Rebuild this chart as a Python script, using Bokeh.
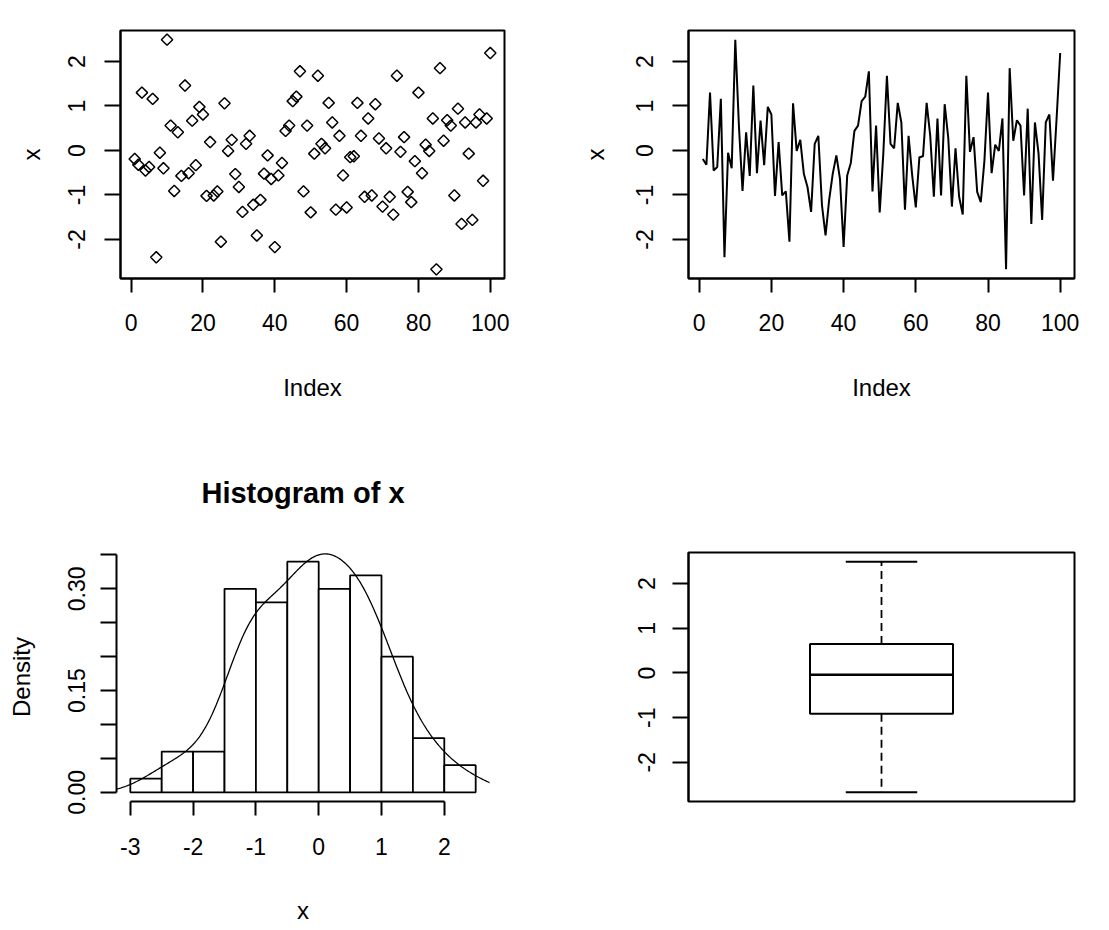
import numpy as np
from bokeh.plotting import figure
from bokeh.models import Range1d, FixedTicker, CustomJSTickFormatter, Title
from bokeh.layouts import column, row
from bokeh.embed import file_html
from bokeh.resources import INLINE

# ---------------- data ----------------
x_values = [
    -0.19, -0.32, 1.30, -0.45, -0.37, 1.16, -2.40, -0.05, -0.40, 2.49,
    0.56, -0.91, 0.41, -0.57, 1.46, -0.51, 0.67, -0.33, 0.98, 0.81,
    -1.02, 0.19, -1.01, -0.92, -2.05, 1.06, -0.01, 0.24, -0.53, -0.82,
    -1.38, 0.15, 0.33, -1.22, -1.91, -1.11, -0.52, -0.11, -0.64, -2.17,
    -0.56, -0.28, 0.44, 0.56, 1.11, 1.21, 1.78, -0.92, 0.56, -1.39,
    -0.07, 1.68, 0.15, 0.05, 1.07, 0.63, -1.33, 0.33, -0.56, -1.28,
    -0.15, -0.13, 1.07, 0.33, -1.04, 0.72, -1.01, 1.04, 0.27, -1.26,
    0.05, -1.04, -1.44, 1.68, -0.03, 0.30, -0.93, -1.16, -0.24, 1.30,
    -0.51, 0.13, -0.01, 0.72, -2.67, 1.85, 0.22, 0.68, 0.56, -1.01,
    0.94, -1.65, 0.63, -0.07, -1.56, 0.63, 0.81, -0.68, 0.72, 2.19,
]
index_values = list(range(1, len(x_values) + 1))
index_ticks = [0, 20, 40, 60, 80, 100]
value_ticks = [-2, -1, 0, 1, 2]
hist_breaks = [-3.0, -2.5, -2.0, -1.5, -1.0, -0.5, 0.0, 0.5, 1.0, 1.5, 2.0, 2.5]
hist_x_ticks = [-3, -2, -1, 0, 1, 2]
density_ticks = [0, 0.05, 0.1, 0.15, 0.2, 0.25, 0.3, 0.35]
density_labels = [0, 0.15, 0.3]

FONT = "Liberation Sans"
x = np.array(x_values, dtype=float)
n = len(x)

PLAIN = CustomJSTickFormatter(code="return tick.toString();")


def ext(lo, hi):
    d = (hi - lo) * 0.04
    return lo - d, hi + d


ylo, yhi = ext(x.min(), x.max())
ixlo, ixhi = ext(1, n)


def style_axis(ax, tick_len=15):
    ax.major_tick_out = tick_len
    ax.major_tick_in = 0
    ax.minor_tick_line_color = None
    ax.major_tick_line_width = 2
    ax.major_tick_line_color = "black"
    ax.axis_line_width = 2
    ax.axis_line_color = "black"
    ax.major_label_text_font = FONT
    ax.major_label_text_font_size = "23px"
    ax.major_label_text_color = "black"
    ax.axis_label_text_font = FONT
    ax.axis_label_text_font_size = "24px"
    ax.axis_label_text_font_style = "normal"
    ax.axis_label_text_color = "black"


def base_fig(width, height, left, right, top, bottom, xr, yr, outline=True):
    p = figure(width=width, height=height, x_range=Range1d(*xr), y_range=Range1d(*yr),
               output_backend="svg", toolbar_location=None,
               min_border_left=left, min_border_right=right,
               min_border_top=top, min_border_bottom=bottom)
    p.xgrid.visible = False
    p.ygrid.visible = False
    p.background_fill_color = "white"
    p.border_fill_color = "white"
    if outline:
        p.outline_line_color = "black"
        p.outline_line_width = 2
    else:
        p.outline_line_color = None
    return p


def index_axes(p, ylabel_standoff):
    style_axis(p.xaxis[0], 14)
    style_axis(p.yaxis[0], 16)
    p.xaxis.ticker = FixedTicker(ticks=index_ticks)
    p.yaxis.ticker = FixedTicker(ticks=value_ticks)
    p.xaxis.formatter = PLAIN
    p.yaxis.formatter = PLAIN
    p.yaxis.major_label_orientation = "vertical"
    p.xaxis.axis_label = "Index"
    p.yaxis.axis_label = "x"
    p.xaxis.major_label_standoff = 21
    p.xaxis.axis_label_standoff = 40
    p.yaxis.major_label_standoff = 19
    p.yaxis.axis_label_standoff = ylabel_standoff


# ---------------- panel 1: scatter ----------------
p1 = base_fig(562, 460, 120, 58, 30, 182, (ixlo, ixhi), (ylo, yhi))
p1.scatter(index_values, x_values, marker="square", angle=np.pi / 4, size=8,
           fill_color=None, line_color="black", line_width=1.5)
index_axes(p1, 21)

# ---------------- panel 2: line ----------------
p2 = base_fig(539, 460, 126, 27, 29, 182, (ixlo, ixhi), (ylo, yhi))
p2.line(index_values, x_values, line_color="black", line_width=2)
index_axes(p2, 25)

# ---------------- panel 3: histogram + density ----------------
breaks = np.array(hist_breaks)
counts = np.array([np.sum((x > breaks[i]) & (x <= breaks[i + 1])) if i > 0 else
                   np.sum((x >= breaks[i]) & (x <= breaks[i + 1]))
                   for i in range(len(breaks) - 1)])
dens_bar = counts / (n * np.diff(breaks))
hxlo, hxhi = ext(breaks[0], breaks[-1])
hylo, hyhi = ext(0, dens_bar.max())

p3 = base_fig(562, 468, 116, 73, 91, 126, (hxlo, hxhi), (hylo, hyhi), outline=False)
p3.quad(left=breaks[:-1], right=breaks[1:], bottom=0, top=dens_bar,
        fill_color="white", line_color="black", line_width=1.8)

sd = np.std(x, ddof=1)
q75, q25 = np.percentile(x, [75, 25])
bw = 0.9 * min(sd, (q75 - q25) / 1.34) * n ** (-0.2)
grid = np.linspace(x.min() - 3 * bw, x.max() + 3 * bw, 512)
kde = np.exp(-0.5 * ((grid[:, None] - x[None, :]) / bw) ** 2).sum(axis=1) / (n * bw * np.sqrt(2 * np.pi))
p3.line(grid, kde, line_color="black", line_width=1.3)

style_axis(p3.xaxis[0], 14)
style_axis(p3.yaxis[0], 16)
p3.xaxis.ticker = FixedTicker(ticks=hist_x_ticks)
p3.xaxis.formatter = PLAIN
p3.xaxis.bounds = (hist_x_ticks[0], hist_x_ticks[-1])
p3.yaxis.ticker = FixedTicker(ticks=density_ticks)
p3.yaxis.bounds = (density_ticks[0], density_ticks[-1])
p3.yaxis.formatter = CustomJSTickFormatter(
    args=dict(keep=density_labels),
    code="for (const k of keep) { if (Math.abs(tick - k) < 1e-9) return tick.toFixed(2); } return '';")
p3.yaxis.major_label_orientation = "vertical"
p3.xaxis.axis_label = "x"
p3.yaxis.axis_label = "Density"
p3.xaxis.major_label_standoff = 22
p3.xaxis.axis_label_standoff = 39
p3.yaxis.major_label_standoff = 15
p3.yaxis.axis_label_standoff = 31
# blank white spacer next to the frame lifts the main title as R does
p3.add_layout(Title(text=" ", text_color="white", text_font=FONT, text_font_size="38px",
                    standoff=0), "above")
p3.add_layout(Title(text="Histogram of x", align="center", text_font=FONT,
                    text_font_size="29px", text_font_style="bold",
                    text_color="black", standoff=0), "above")

# ---------------- panel 4: boxplot ----------------
xs = np.sort(x)
med = np.median(xs)
lower_half = xs[: n // 2 + (n % 2)]
upper_half = xs[n // 2:]
q1 = np.median(lower_half)
q3 = np.median(upper_half)
iqr = q3 - q1
wlo = xs[xs >= q1 - 1.5 * iqr].min()
whi = xs[xs <= q3 + 1.5 * iqr].max()

p4 = base_fig(539, 468, 126, 27, 92, 127, (0.46, 1.54), (ylo, yhi))
p4.segment(x0=[1, 1], y0=[q3, q1], x1=[1, 1], y1=[whi, wlo],
           line_color="black", line_width=1.8, line_dash="8 5")
p4.segment(x0=[0.9, 0.9], y0=[whi, wlo], x1=[1.1, 1.1], y1=[whi, wlo],
           line_color="black", line_width=2)
p4.quad(left=[0.8], right=[1.2], bottom=[q1], top=[q3],
        fill_color="white", line_color="black", line_width=2)
p4.segment(x0=[0.8], y0=[med], x1=[1.2], y1=[med], line_color="black", line_width=2.5)
p4.xaxis.visible = False
style_axis(p4.yaxis[0], 16)
p4.yaxis.ticker = FixedTicker(ticks=value_ticks)
p4.yaxis.formatter = PLAIN
p4.yaxis.major_label_orientation = "vertical"
p4.yaxis.major_label_standoff = 17

layout = column(row(p1, p2), row(p3, p4))
open("out.html", "w").write(file_html(layout, INLINE))
